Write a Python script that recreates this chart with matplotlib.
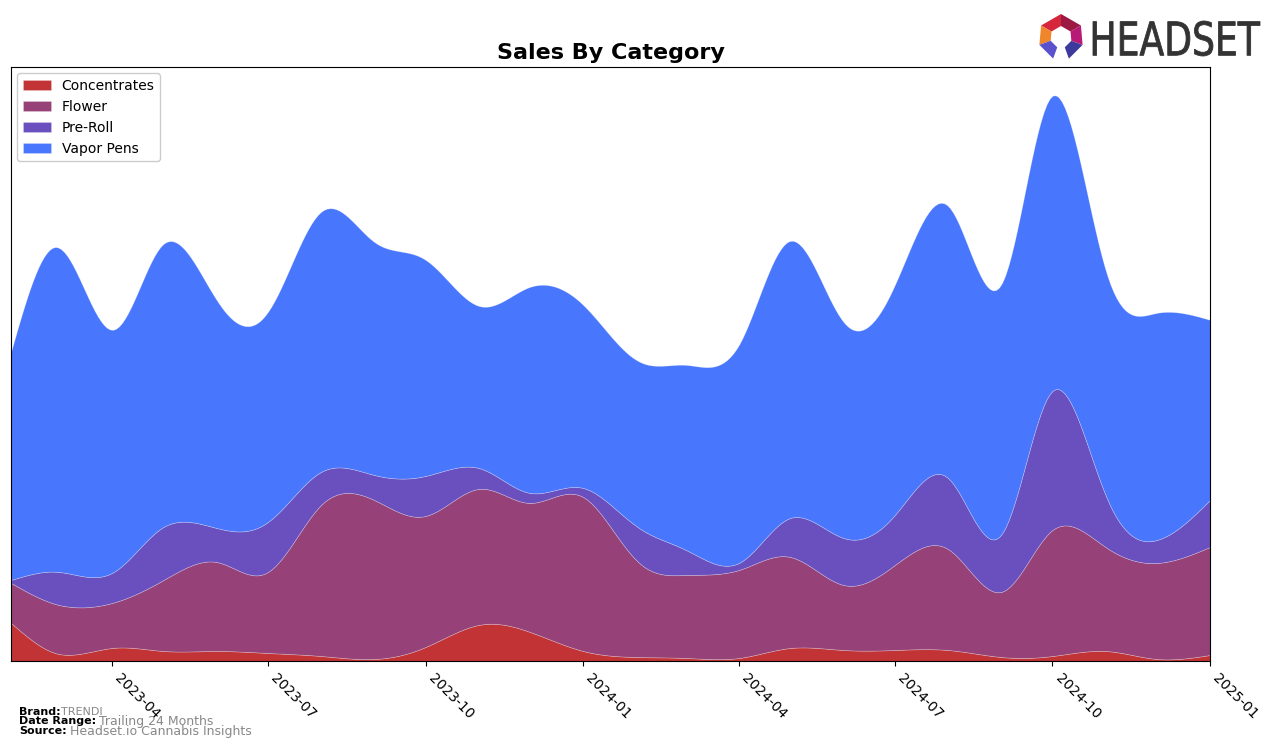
import numpy as np
import pandas as pd
import matplotlib
matplotlib.use('Agg')
import matplotlib.pyplot as plt
import matplotlib.dates as mdates
from matplotlib.patches import PathPatch, Polygon
from matplotlib.textpath import TextPath
from matplotlib.font_manager import FontProperties
from matplotlib.transforms import Affine2D

# === Data (monthly sales, arbitrary units) ===
months = pd.date_range('2023-02-01', '2025-01-01', freq='MS')
categories = ['Concentrates', 'Flower', 'Pre-Roll', 'Vapor Pens']
concentrates = [38, 7, 13, 10, 10, 8, 5, 2, 14, 36, 29, 10, 4, 3, 3, 13, 11, 11, 11, 4, 5, 10, 2, 6]
flower = [40, 49, 45, 71, 89, 81, 151, 159, 131, 136, 129, 154, 97, 83, 88, 91, 65, 85, 101, 65, 126, 104, 96, 108]
pre_roll = [3, 33, 30, 53, 34, 50, 33, 25, 40, 21, 10, 9, 34, 25, 7, 39, 47, 50, 71, 57, 139, 52, 23, 47]
vapor_pens = [228, 324, 243, 283, 228, 210, 260, 233, 216, 162, 206, 183, 166, 185, 218, 277, 216, 230, 272, 250, 295, 225, 227, 180]
colors = ['#c13334', '#964278', '#6a4fbf', '#4877fe']


def smooth(y, n=400):
    """Natural cubic spline through monthly points."""
    y = np.asarray(y, dtype=float)
    N = len(y)
    A = np.zeros((N, N))
    r = np.zeros(N)
    A[0, 0] = A[-1, -1] = 1
    for i in range(1, N - 1):
        A[i, i - 1], A[i, i], A[i, i + 1] = 1, 4, 1
        r[i] = 6 * (y[i + 1] - 2 * y[i] + y[i - 1])
    M = np.linalg.solve(A, r)
    xs = np.linspace(0, N - 1, n)
    idx = np.clip(np.floor(xs).astype(int), 0, N - 2)
    t = xs - idx
    ys = (M[idx] * (1 - t) ** 3 + M[idx + 1] * t ** 3) / 6 \
        + (y[idx] - M[idx] / 6) * (1 - t) + (y[idx + 1] - M[idx + 1] / 6) * t
    return xs, np.clip(ys, 0, None)


xnum = mdates.date2num(months)
series = [concentrates, flower, pre_roll, vapor_pens]
smoothed = []
for s in series:
    xs, ys = smooth(s)
    smoothed.append(ys)
xd = np.interp(xs, np.arange(len(months)), xnum)

fig = plt.figure(figsize=(12.76, 7.48), dpi=100)
ax = fig.add_axes([11 / 1276, 1 - 661 / 748, (1210 - 11) / 1276, (661 - 67) / 748])

ax.stackplot(xd, *smoothed, colors=colors, labels=categories,
             edgecolor=(1, 1, 1, 0.3), linewidth=0.5)
ax.set_xlim(xnum[0], xnum[-1])
total = np.sum(smoothed, axis=0)
ax.set_ylim(0, total.max() * 1.05)
ax.set_yticks([])

ticks = pd.date_range('2023-04-01', '2025-01-01', freq='QS')
ax.set_xticks(mdates.date2num(ticks))
ax.set_xticklabels([t.strftime('%Y-%m') for t in ticks], rotation=-45,
                   ha='left', va='top', fontsize=10)

ax.set_title('Sales By Category', fontsize=16, fontweight='bold', pad=6)
ax.legend(loc='upper left', fontsize=10, handlelength=2, framealpha=1,
          borderaxespad=0.45)

# footer
fig.text(19 / 1276, 1 - 712 / 748, 'Brand:', fontsize=8, fontweight='bold', va='center')
fig.text(61 / 1276, 1 - 712 / 748, 'TRENDI', fontsize=8, color='#888888', va='center')
fig.text(19 / 1276, 1 - 721 / 748, 'Date Range:', fontsize=8, fontweight='bold', va='center')
fig.text(99 / 1276, 1 - 721 / 748, 'Trailing 24 Months', fontsize=9, color='#888888', va='center')
fig.text(19 / 1276, 1 - 731 / 748, 'Source:', fontsize=8, fontweight='bold', va='center')
fig.text(70 / 1276, 1 - 731 / 748, 'Headset.io Cannabis Insights', fontsize=9, color='#888888', va='center')

# logo text
tp = TextPath((0, 0), 'HEADSET', size=50, prop=FontProperties(family='DejaVu Sans'))
ext = tp.get_extents()
X0, X1 = 1093 / 1276, 1260 / 1276
Y0, Y1 = 1 - 56 / 748, 1 - 21 / 748
tr = Affine2D().translate(-ext.x0, -ext.y0).scale((X1 - X0) / ext.width, (Y1 - Y0) / ext.height) \
    .translate(X0, Y0) + fig.transFigure
fig.add_artist(PathPatch(tp, transform=tr, color='#333333', lw=0.6))

# logo icon: ring of coloured segments open at the bottom
cx, cy, ro, ri = 1061, 37, 23, 11
segs = [(-70, -20, '#3d3a9e'), (-20, 30, '#b81a78'), (30, 90, '#9c1942'),
        (90, 150, '#d6263c'), (150, 200, '#f0862a'), (200, 250, '#5a52cc')]
for a0, a1, c in segs:
    ang = np.radians([a0, a1])
    pts = [(cx + ro * np.cos(a), cy - ro * np.sin(a)) for a in ang] + \
          [(cx + ri * np.cos(a), cy - ri * np.sin(a)) for a in ang[::-1]]
    pts = [(px / 1276, 1 - py / 748) for px, py in pts]
    fig.add_artist(Polygon(pts, closed=True, transform=fig.transFigure, color=c, lw=0))

fig.savefig('out.png', dpi=100)
